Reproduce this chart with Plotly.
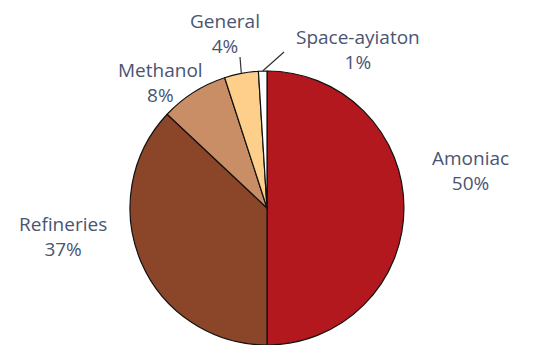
import math
import plotly.graph_objects as go

# Hydrogen consumption by end use (%)
sectors = ["Amoniac", "Refineries", "Methanol", "General", "Space-ayiaton"]
shares = [50, 37, 8, 4, 1]
colors = ["#B2181E", "#8B4529", "#C98E65", "#FDCF8A", "#FFFFFF"]

W, H = 533, 345
cx, cy, r = 267, 208, 137  # pie centre and radius in pixels (from top-left)

fig = go.Figure(go.Pie(
    labels=sectors,
    values=shares,
    sort=False,
    direction="clockwise",
    rotation=0,
    textinfo="none",
    hoverinfo="label+percent",
    marker=dict(colors=colors, line=dict(color="#111111", width=1.2)),
    domain=dict(x=[(cx - r) / W, (cx + r) / W], y=[(H - cy - r) / H, (H - cy + r) / H]),
    showlegend=False,
))

# label block centres in pixels (name on first line, share below)
label_pos = {
    "Amoniac": (470, 170),
    "Refineries": (63, 236),
    "Methanol": (160, 82),
    "General": (225, 33),
    "Space-ayiaton": (358, 49),
}
text_color = "#4A5572"
font = dict(family="Open Sans", size=19, color=text_color)


def px(x, y):
    return x / W, 1 - y / H


total = sum(shares)
start = 0.0
mid_angles = {}
for name, v in zip(sectors, shares):
    ang = v / total * 360
    mid_angles[name] = start + ang / 2
    start += ang

for name, v in zip(sectors, shares):
    lx, ly = label_pos[name]
    x0, y0 = px(lx, ly)
    fig.add_annotation(x=x0, y=y0, xref="paper", yref="paper",
                       text=f"{name}<br>{v}%", showarrow=False, font=font,
                       xanchor="center", yanchor="middle", align="center")

# leader lines for the two narrow slices
leaders = {"General": (240, 57), "Space-ayiaton": (284, 52)}
for name, (ex, ey) in leaders.items():
    t = math.radians(mid_angles[name])
    sx = cx + r * math.sin(t)
    sy = cy - r * math.cos(t)
    a0, b0 = px(sx, sy)
    a1, b1 = px(ex, ey)
    fig.add_shape(type="line", xref="paper", yref="paper", x0=a0, y0=b0, x1=a1, y1=b1,
                  line=dict(color="#333333", width=1.2))

fig.update_layout(
    width=W, height=H,
    margin=dict(l=0, r=0, t=0, b=0),
    paper_bgcolor="white",
    plot_bgcolor="white",
)

fig.write_html("out.html")
